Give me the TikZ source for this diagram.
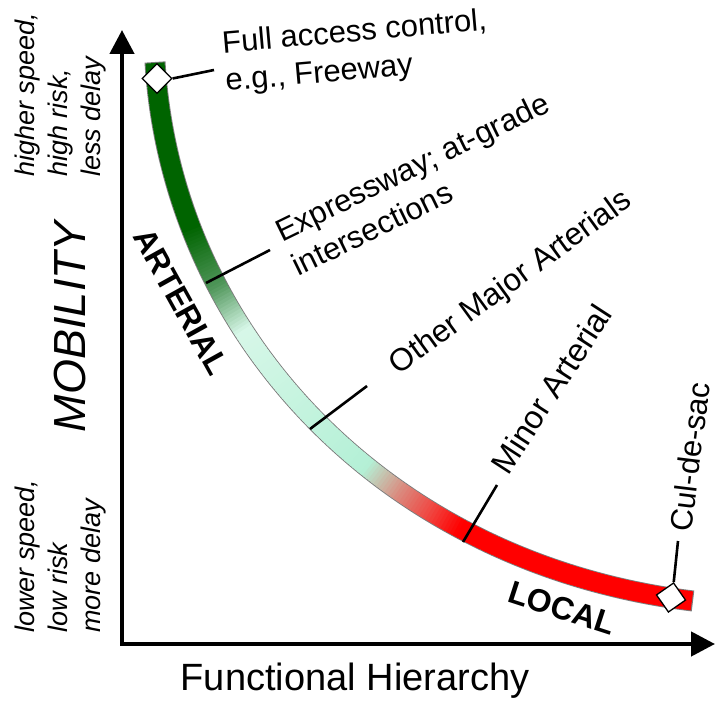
\documentclass[tikz,border=0pt]{standalone}
\usepackage{fontspec}
\setmainfont{Liberation Sans}
\usetikzlibrary{arrows.meta,shapes.geometric}

\definecolor{bandedge}{RGB}{125,125,125}

\pgfmathdeclarefunction{bzx}{1}{\pgfmathparse{(1-#1)^3*155+3*(1-#1)^2*#1*171.5+3*(1-#1)*#1^2*388+#1^3*693}}
\pgfmathdeclarefunction{bzy}{1}{\pgfmathparse{(1-#1)^3*62+3*(1-#1)^2*#1*337+3*(1-#1)*#1^2*564+#1^3*601}}

\newcommand\bandmix[8]{%
  \pgfmathsetmacro\bandS{(\bandT-#1)/(#2-#1)}%
  \pgfmathtruncatemacro\segR{round(#3+(#6-#3)*\bandS)}%
  \pgfmathtruncatemacro\segG{round(#4+(#7-#4)*\bandS)}%
  \pgfmathtruncatemacro\segB{round(#5+(#8-#5)*\bandS)}}

\newcommand\bandcolour{%
  \ifdim\bandT pt<0.21pt \def\segR{0}\def\segG{100}\def\segB{0}%
  \else\ifdim\bandT pt<0.29pt \bandmix{0.21}{0.29}{0}{100}{0}{80}{150}{90}%
  \else\ifdim\bandT pt<0.355pt \bandmix{0.29}{0.355}{80}{150}{90}{215}{247}{232}%
  \else\ifdim\bandT pt<0.585pt \bandmix{0.355}{0.585}{215}{247}{232}{180}{240}{214}%
  \else\ifdim\bandT pt<0.635pt \bandmix{0.585}{0.635}{180}{240}{214}{218}{140}{128}%
  \else\ifdim\bandT pt<0.68pt \bandmix{0.635}{0.68}{218}{140}{128}{240}{70}{65}%
  \else\ifdim\bandT pt<0.72pt \bandmix{0.68}{0.72}{240}{70}{65}{255}{0}{0}%
  \else \def\segR{255}\def\segG{0}\def\segB{0}%
  \fi\fi\fi\fi\fi\fi\fi
  \definecolor{segc}{RGB}{\segR,\segG,\segB}}

\tikzset{
  lbl/.style={font=\fontsize{31}{38}\selectfont, inner sep=0pt},
  boldlbl/.style={font=\fontsize{32}{38}\selectfont\bfseries, inner sep=0pt},
  note/.style={font=\fontsize{27}{33}\selectfont\itshape, inner sep=0pt, align=left, rotate=90, anchor=north west},
  tickline/.style={line width=2.6pt, black},
  marker/.style={diamond, draw=black, line width=1.3pt, fill=white, minimum width=30pt, minimum height=30pt, inner sep=0pt},
  axisline/.style={line width=4.5pt, line join=miter, {Triangle[length=24pt,width=24pt]}-{Triangle[length=24pt,width=24pt]}}
}

\begin{document}
\begin{tikzpicture}[x=1pt,y=-1pt]
\useasboundingbox (0,0) rectangle (717,706);

% axes
\coordinate (ytip) at (122,30);
\coordinate (origin) at (122,644);
\coordinate (xtip) at (715,644);
\draw[axisline] (ytip) -- (origin) -- (xtip);

% band
\coordinate (P0) at (155,62);
\coordinate (P1) at (171.5,337);
\coordinate (P2) at (388,564);
\coordinate (P3) at (693,601);
\draw[line width=21pt, bandedge] (P0) .. controls (P1) and (P2) .. (P3);
\foreach \i in {0,...,239}{
  \pgfmathsetmacro\bandTa{0.0012+0.9976*\i/240}
  \pgfmathsetmacro\bandTb{min(0.9988,0.0012+0.9976*(\i+1.7)/240)}
  \pgfmathsetmacro\bandT{(\i+0.5)/240}
  \bandcolour
  \draw[line width=19pt, segc] ({bzx(\bandTa)},{bzy(\bandTa)}) -- ({bzx(\bandTb)},{bzy(\bandTb)});
}

% ticks
\coordinate (expA) at (206,283);
\coordinate (expB) at (270,250);
\coordinate (othA) at (310,429);
\coordinate (othB) at (367,386);
\coordinate (minA) at (463,542);
\coordinate (minB) at (497,485);
\draw[tickline] (expA) -- (expB);
\draw[tickline] (othA) -- (othB);
\draw[tickline] (minA) -- (minB);

% diamonds and leaders
\coordinate (fullend) at (214,70);
\coordinate (culend) at (678,541);
\node[marker] (dtop) at (157,78.5) {};
\draw[tickline] (dtop.east) -- (fullend);
\node[marker, rotate=-10] (dbot) at (671,597.5) {};
\draw[tickline] (dbot.north) -- (culend);

% labels
\node[lbl, rotate=5, anchor=north west, align=left] (full) at (221,30.5) {Full access control,\\e.g., Freeway};
\node[lbl, rotate=26, anchor=north west, align=left] (expr) at (272,222) {Expressway; at-grade\\intersections};
\node[lbl, font=\fontsize{31.5}{38}\selectfont, rotate=36, anchor=base] (other) at (516,290) {Other Major Arterials};
\node[lbl, font=\fontsize{32.5}{38}\selectfont, rotate=57, anchor=base] (minor) at (561,395) {Minor Arterial};
\node[lbl, rotate=83, anchor=base] (cul) at (701,458) {Cul-de-sac};
\node[boldlbl, rotate=-18] (local) at (562,608) {LOCAL};
\node[boldlbl, rotate=-61] (arterial) at (181,302) {ARTERIAL};

% axis titles
\node[font=\fontsize{45}{50}\selectfont\itshape, inner sep=0pt, rotate=90, anchor=base] (mob) at (85,327) {MOBILITY};
\node[font=\fontsize{38}{44}\selectfont, inner sep=0pt, anchor=base] (fh) at (355,690) {Functional Hierarchy};
\node[note] (hi) at (15,177) {higher speed,\\high risk,\\less delay};
\node[note] (lo) at (15,633) {lower speed,\\low risk\\more delay};
\end{tikzpicture}
\end{document}
